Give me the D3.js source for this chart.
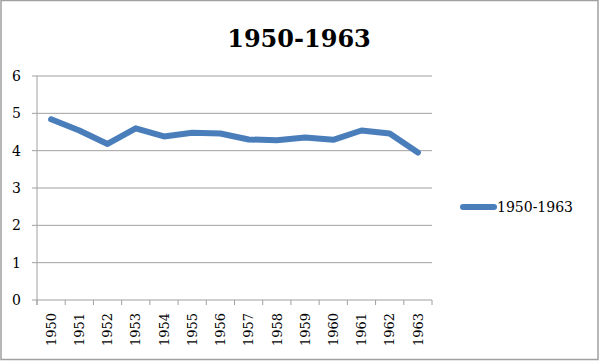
<!DOCTYPE html>
<html>
<head>
<meta charset="utf-8">
<script src="https://cdn.jsdelivr.net/npm/d3@7"></script>
<style>
  body { margin: 0; background: #fff; }
  svg text { font-family: "DejaVu Serif", serif; fill: #000; }
</style>
</head>
<body>
<div id="chart"></div>
<script>
// data
const years = ['1950', '1951', '1952', '1953', '1954', '1955', '1956',
               '1957', '1958', '1959', '1960', '1961', '1962', '1963'];
const values = [4.84, 4.54, 4.18, 4.60, 4.38, 4.48, 4.46,
                4.30, 4.28, 4.35, 4.29, 4.54, 4.46, 3.95];
const yTicks = [0, 1, 2, 3, 4, 5, 6];
const seriesName = '1950-1963';

const width = 600;
const height = 361;
const blue = '#4a7ebb';
const grey = '#a0a0a0';

const svg = d3.select('#chart')
    .append('svg')
    .attr('width', width)
    .attr('height', height);

// outer frame
svg.append('rect')
    .attr('x', 1).attr('y', 0.5)
    .attr('width', 597).attr('height', 359)
    .attr('fill', 'none')
    .attr('stroke', grey)
    .attr('stroke-width', 1.5);

const x = d3.scaleBand().domain(years).range([37, 432]).padding(0);
const y = d3.scaleLinear().domain([0, 6]).range([300, 76]);

// gridlines
svg.append('g')
    .selectAll('line')
    .data(yTicks)
    .enter()
    .append('line')
    .attr('x1', 32).attr('x2', 432)
    .attr('y1', d => y(d)).attr('y2', d => y(d))
    .attr('stroke', grey)
    .attr('stroke-width', 1);

// y axis line
svg.append('line')
    .attr('x1', 37).attr('x2', 37)
    .attr('y1', y(6)).attr('y2', 305)
    .attr('stroke', grey);

// x ticks at band edges
const edges = years.map(d => x(d)).concat([x.range()[1]]);
svg.append('g')
    .selectAll('line')
    .data(edges)
    .enter()
    .append('line')
    .attr('x1', d => d).attr('x2', d => d)
    .attr('y1', 300).attr('y2', 305)
    .attr('stroke', grey);

// y labels
svg.append('g')
    .selectAll('text')
    .data(yTicks)
    .enter()
    .append('text')
    .attr('x', 21)
    .attr('y', d => y(d))
    .attr('dy', '0.36em')
    .attr('text-anchor', 'end')
    .style('font-size', '14px')
    .text(d => d);

// x labels, rotated
svg.append('g')
    .selectAll('text')
    .data(years)
    .enter()
    .append('text')
    .attr('transform', d => `translate(${x(d) + x.bandwidth() / 2},313) rotate(-90)`)
    .attr('dy', '0.36em')
    .attr('text-anchor', 'end')
    .style('font-size', '13px')
    .text(d => d);

// the line
const line = d3.line()
    .x((d, i) => x(years[i]) + x.bandwidth() / 2)
    .y(d => y(d));

svg.append('path')
    .datum(values)
    .attr('d', line)
    .attr('fill', 'none')
    .attr('stroke', blue)
    .attr('stroke-width', 6)
    .attr('stroke-linejoin', 'round')
    .attr('stroke-linecap', 'round');

// title
svg.append('text')
    .attr('x', 299)
    .attr('y', 47)
    .attr('text-anchor', 'middle')
    .style('font-size', '24px')
    .style('font-weight', 'bold')
    .text(seriesName);

// legend
const legend = svg.append('g');
legend.append('line')
    .attr('x1', 463).attr('x2', 494)
    .attr('y1', 207).attr('y2', 207)
    .attr('stroke', blue)
    .attr('stroke-width', 6)
    .attr('stroke-linecap', 'round');
legend.append('text')
    .attr('x', 497)
    .attr('y', 207)
    .attr('dy', '0.36em')
    .style('font-size', '14px')
    .text(seriesName);
</script>
</body>
</html>
